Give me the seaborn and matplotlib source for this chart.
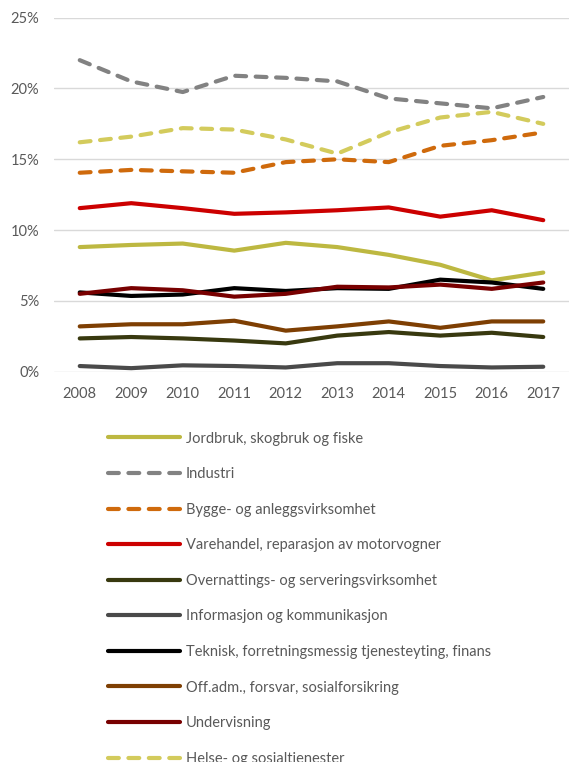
import numpy as np
import pandas as pd
import seaborn as sns
import matplotlib.pyplot as plt
from matplotlib.ticker import FuncFormatter

# years on the x axis
years = [2008, 2009, 2010, 2011, 2012, 2013, 2014, 2015, 2016, 2017]

# share of employment per industry (percent)
jordbruk = [8.8, 8.95, 9.05, 8.55, 9.1, 8.8, 8.25, 7.55, 6.45, 7.0]
industri = [22.0, 20.5, 19.75, 20.9, 20.75, 20.5, 19.3, 18.95, 18.6, 19.4]
bygge = [14.05, 14.25, 14.15, 14.05, 14.8, 15.0, 14.8, 15.95, 16.35, 16.9]
varehandel = [11.55, 11.9, 11.55, 11.15, 11.25, 11.4, 11.6, 10.95, 11.4, 10.7]
overnatting = [2.35, 2.45, 2.35, 2.2, 2.0, 2.55, 2.8, 2.55, 2.75, 2.45]
informasjon = [0.4, 0.25, 0.45, 0.4, 0.3, 0.6, 0.6, 0.4, 0.3, 0.35]
teknisk = [5.6, 5.35, 5.45, 5.9, 5.7, 5.9, 5.85, 6.5, 6.3, 5.85]
offadm = [3.2, 3.35, 3.35, 3.6, 2.9, 3.2, 3.55, 3.1, 3.55, 3.55]
undervisning = [5.5, 5.9, 5.75, 5.3, 5.5, 6.0, 5.95, 6.15, 5.85, 6.3]
helse = [16.2, 16.6, 17.2, 17.1, 16.4, 15.4, 16.9, 17.95, 18.35, 17.5]

labels = [
	'Jordbruk, skogbruk og fiske',
	'Industri',
	'Bygge- og anleggsvirksomhet',
	'Varehandel, reparasjon av motorvogner',
	'Overnattings- og serveringsvirksomhet',
	'Informasjon og kommunikasjon',
	'Teknisk, forretningsmessig tjenesteyting, finans',
	'Off.adm., forsvar, sosialforsikring',
	'Undervisning',
	'Helse- og sosialtjenester',
]
series = [ jordbruk, industri, bygge, varehandel, overnatting,
		   informasjon, teknisk, offadm, undervisning, helse ]
colors = [ '#BDB841', '#828282', '#CF6A0C', '#CC0000', '#38390F',
		   '#4A4A4A', '#000000', '#7E3F03', '#780000', '#D3CB5C' ]
dashed = [ False, True, True, False, False, False, False, False, False, True ]


def buildFrame():

	"""
	long format dataframe for seaborn
	"""

	rows = []
	for label, values in zip( labels, series ):
		for y, v in zip( years, values ):
			rows.append( { 'year': y, 'value': v, 'sector': label } )
	return pd.DataFrame( rows )


def main():

	sns.set_style( 'white' )
	plt.rcParams['font.family'] = ['Lato', 'DejaVu Sans']

	df = buildFrame()

	fig = plt.figure( figsize=(5.69, 7.62), dpi=100 )
	ax = fig.add_axes( [ 0.0949, 0.5122, 0.9051, 0.4646 ] )

	palette = dict( zip( labels, colors ) )
	dashes = { l: (2.6, 2.3) if d else '' for l, d in zip( labels, dashed ) }

	sns.lineplot( data=df, x='year', y='value', hue='sector', style='sector',
				  hue_order=labels, style_order=labels,
				  palette=palette, dashes=dashes, linewidth=3.0,
				  dash_capstyle='round', solid_capstyle='round',
				  ax=ax, legend=False, zorder=3 )

	# axes styling
	ax.set_xlim( 2007.5, 2017.5 )
	ax.set_ylim( 0, 25 )
	ax.set_xticks( years )
	ax.set_yticks( [ 0, 5, 10, 15, 20, 25 ] )
	ax.yaxis.set_major_formatter( FuncFormatter( lambda v, p: '{:.0f}%'.format( v ) ) )
	ax.grid( axis='y', color='#D9D9D9', linewidth=1.0 )
	ax.set_axisbelow( True )
	for s in ax.spines.values():
		s.set_visible( False )
	ax.tick_params( axis='both', length=0, labelsize=10.5, colors='#595959' )
	ax.tick_params( axis='x', pad=11 )
	ax.tick_params( axis='y', pad=10.5 )
	ax.set_xlabel( '' )
	ax.set_ylabel( '' )

	# legend below the plot
	handles = [ plt.Line2D( [], [], color=c, linewidth=3.0,
							linestyle=(0, (2.6, 2.3)) if d else '-',
							dash_capstyle='round', solid_capstyle='round' )
				for c, d in zip( colors, dashed ) ]
	leg = fig.legend( handles, labels, loc='upper left',
					  bbox_to_anchor=( 0.1898, 0.4337 ), frameon=False,
					  fontsize=10.5, handlelength=4.93, handletextpad=0.41,
					  labelspacing=1.48, borderaxespad=0, borderpad=0 )
	for t in leg.get_texts():
		t.set_color( '#595959' )

	fig.savefig( 'out.png', dpi=100 )


if __name__ == '__main__':
	main()
